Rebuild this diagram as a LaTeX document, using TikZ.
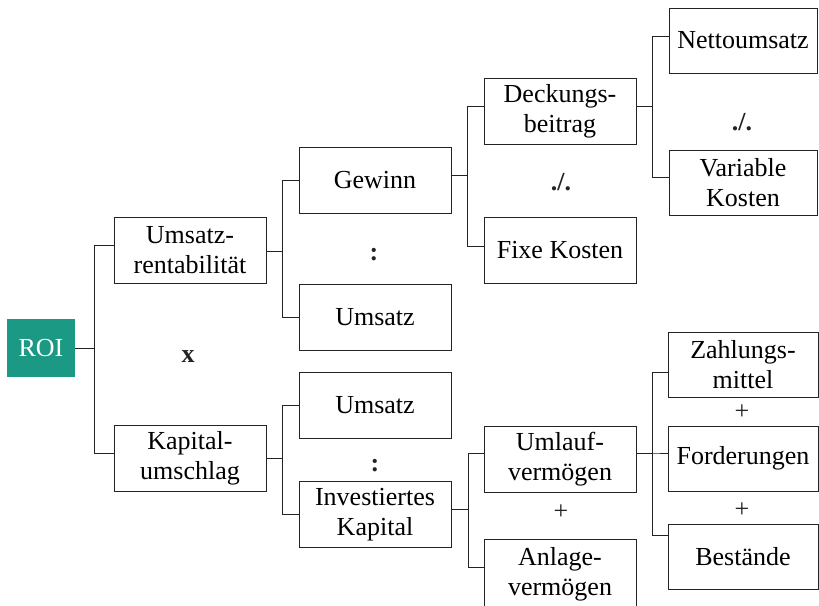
\documentclass[tikz,border=0pt]{standalone}
\usepackage{fontspec}
\setmainfont{Liberation Serif}
\usepackage{tikz}
\usetikzlibrary{positioning}
\definecolor{roiteal}{RGB}{27,153,132}
\definecolor{boxline}{RGB}{35,35,35}

\begin{document}
\begin{tikzpicture}[
  x=1pt, y=-1pt,
  box/.style={draw=boxline, line width=1pt, minimum width=152pt, minimum height=66pt, inner sep=0pt, align=center},
  smallbox/.style={box, minimum width=148pt, minimum height=65pt},
  roibox/.style={fill=roiteal, text=white, minimum width=68pt, minimum height=58pt, inner sep=0pt},
  link/.style={draw=boxline, line width=1pt},
  op/.style={inner sep=0pt, text=boxline},
  every node/.style={font=\fontsize{26}{30}\selectfont}
]
  \useasboundingbox (0,0) rectangle (819,605);

  % root and first level
  \node[roibox] (roi) at (41,348) {ROI};
  \node[box] (ur) at (190,250) {Umsatz-\\rentabilität};
  \node[box] (ku) at (190,458.5) {Kapital-\\umschlag};

  % second level
  \node[box] (gew)  at (375,180)   {Gewinn};
  \node[box] (ums1) at (375,317.5) {Umsatz};
  \node[box] (ums2) at (375,405)   {Umsatz};
  \node[box] (ik)   at (375,514.5) {Investiertes\\Kapital};

  % third level
  \node[box] (db) at (560,111)   {Deckungs-\\beitrag};
  \node[box] (fk) at (560,250)   {Fixe Kosten};
  \node[box] (uv) at (560,459)   {Umlauf-\\vermögen};
  \node[box, minimum height=70pt] (av) at (560,574) {Anlage-\\vermögen};

  % fourth level
  \node[smallbox] (nu) at (743,40.5)  {Nettoumsatz};
  \node[smallbox] (vk) at (743,183)   {Variable\\Kosten};
  \node[box, minimum width=150pt, minimum height=65pt] (zm) at (743,364.5) {Zahlungs-\\mittel};
  \node[box, minimum width=150pt, minimum height=65pt] (fo) at (743,458.5) {Forderungen};
  \node[box, minimum width=150pt, minimum height=65pt] (be) at (743,557)   {Bestände};

  % operators
  \node[op] (times) at (188,357) {\textbf{x}};
  \node[op] (div1) at (374,255) {\textbf{:}};
  \node[op] (div2) at (375,466) {\textbf{:}};
  \node[op] (minus1) at (561,182) {\textbf{./.}};
  \node[op] (minus2) at (742,122) {\textbf{./.}};
  \foreach \px/\py/\nm in {561/512/plus1, 742/412/plus2, 742/510/plus3} {
    \node[op] (\nm) at (\px,\py) {+};
  }

  % connectors
  \draw[link] (roi.east) -- ++(19,0) |- ([yshift=5pt]ur.west);
  \draw[link] (roi.east) -- ++(19,0) |- ([yshift=5.5pt]ku.west);
  \draw[link] ([yshift=-1pt]ur.east) -- ++(16,0) |- (gew.west);
  \draw[link] ([yshift=-1pt]ur.east) -- ++(16,0) |- (ums1.west);
  \draw[link] ([yshift=0.5pt]ku.east) -- ++(16,0) |- (ums2.west);
  \draw[link] ([yshift=0.5pt]ku.east) -- ++(16,0) |- (ik.west);
  \draw[link] ([yshift=5pt]gew.east) -- ++(16,0) |- ([yshift=5pt]db.west);
  \draw[link] ([yshift=5pt]gew.east) -- ++(16,0) |- ([yshift=4pt]fk.west);
  \draw[link] ([yshift=5pt]db.east) -- ++(16,0) |- ([yshift=4.5pt]nu.west);
  \draw[link] ([yshift=5pt]db.east) -- ++(16,0) |- ([yshift=6pt]vk.west);
  \draw[link] ([yshift=5.5pt]ik.east) -- ++(17,0) |- ([yshift=6pt]uv.west);
  \draw[link] ([yshift=5.5pt]ik.east) -- ++(17,0) |- ([yshift=7pt]av.west);
  \draw[link] ([yshift=6pt]uv.east) -- ++(16,0) |- ([yshift=-7.5pt]zm.west);
  \draw[link] ([yshift=6pt]uv.east) -- ++(16,0) |- ([yshift=5.5pt]fo.west);
  \draw[link] ([yshift=6pt]uv.east) -- ++(16,0) |- ([yshift=22pt]be.west);
\end{tikzpicture}
\end{document}
